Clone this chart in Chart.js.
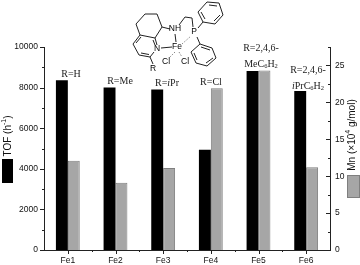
<!DOCTYPE html>
<html>
<head>
<meta charset="utf-8">
<script src="https://cdn.jsdelivr.net/npm/chart.js@4"></script>
<style>
  html, body { margin: 0; padding: 0; background: #fff; }
  canvas { display: block; filter: blur(0.35px); }
</style>
</head>
<body>
<canvas id="chartContainer" width="360" height="265"></canvas>
<script>
// values
var categories = ['Fe1', 'Fe2', 'Fe3', 'Fe4', 'Fe5', 'Fe6'];
var tofValues = [8360, 8010, 7910, 4940, 8820, 7830];
var mnValues = [12.1, 9.1, 11.1, 21.9, 24.3, 11.2];

var black = '#000';
var grey = '#a6a6a6';
var greyEdge = '#7f7f7f';
var axisColor = '#222';
var sans = '"Liberation Sans", Arial, sans-serif';
var serif = '"Liberation Serif", "Times New Roman", serif';

// R= captions above the bars
var captions = [
    { x: 71, y: 74, parts: [['R=H']] },
    { x: 120, y: 81, parts: [['R=Me']] },
    { x: 167, y: 83, parts: [['R='], ['i', 'i'], ['Pr']] },
    { x: 211, y: 82, parts: [['R=Cl']] },
    { x: 261, y: 48, parts: [['R=2,4,6-']] },
    { x: 261, y: 64, parts: [['MeC'], ['6', 's'], ['H'], ['2', 's']] },
    { x: 308, y: 70, parts: [['R=2,4,6-']] },
    { x: 308, y: 86, parts: [['i', 'i'], ['PrC'], ['6', 's'], ['H'], ['2', 's']] }
];

// catalyst structure sketch, page pixels
var bondPaths = [
    [[136, 24], [145, 14], [157, 14], [162, 27], [155, 38], [140, 35], [136, 24]],
    [[140, 35], [133, 44], [139, 55], [150, 57], [154, 52]],
    [[155, 38], [157, 45]],
    [[136, 43], [141, 37]],
    [[141, 53], [149, 54.5]],
    [[153, 40], [155, 45]],
    [[150, 57], [153, 64]],
    [[162, 27], [170, 29]],
    [[179, 25], [185, 17], [192, 18], [193, 27]],
    [[175, 34], [176, 42]],
    [[161, 48], [172, 47]],
    [[198, 28], [203, 22]],
    [[197, 37], [200, 44]],
    [[198, 12], [207, 2], [219, 3], [223, 15], [215, 24], [203, 22], [198, 12]],
    [[209, 5], [217, 6]],
    [[220, 15], [214, 21]],
    [[205, 19], [201, 12]],
    [[191, 52], [200, 44], [212, 48], [216, 58], [207, 66], [196, 63], [191, 52]],
    [[201, 47], [210, 50]],
    [[213, 58], [206, 63]],
    [[197, 60], [194, 53]]
];
var dashedPaths = [
    [[182, 44], [191, 36]],
    [[175, 52], [170, 57]],
    [[179, 52], [182, 57]]
];
var atoms = [
    ['N', 157, 49], ['NH', 175, 29], ['Fe', 177, 47], ['P', 194, 32],
    ['Cl', 166, 62], ['Cl', 185, 62], ['R', 153, 69]
];

function drawPieces(ctx, pieces, x, y, align) {
    // pieces: [text, style] where style is s (sub), u (super), i (italic)
    var total = 0;
    pieces.forEach(function (p) {
        ctx.font = ctx.baseFont(p[1]);
        total += ctx.measureText(p[0]).width;
    });
    var cx = align === 'center' ? x - total / 2 : x;
    pieces.forEach(function (p) {
        ctx.font = ctx.baseFont(p[1]);
        var dy = p[1] === 's' ? 2.5 : (p[1] === 'u' ? -3.5 : 0);
        ctx.fillText(p[0], cx, y + dy);
        cx += ctx.measureText(p[0]).width;
    });
}

function strokePath(ctx, pts) {
    ctx.beginPath();
    pts.forEach(function (p, i) {
        if (i === 0) ctx.moveTo(p[0], p[1]); else ctx.lineTo(p[0], p[1]);
    });
    ctx.stroke();
}

var extrasPlugin = {
    id: 'extras',
    afterDraw: function (chart) {
        var ctx = chart.ctx;
        var area = chart.chartArea;
        var yL = chart.scales.yTof, yR = chart.scales.yMn, xS = chart.scales.x;
        ctx.save();
        ctx.strokeStyle = axisColor;
        ctx.lineWidth = 1;

        // tick marks: left outward, right inward, x downward
        yL.ticks.forEach(function (t) {
            var py = Math.round(yL.getPixelForValue(t.value)) + 0.5;
            var len = t.value % 2000 === 0 ? 4 : 2;
            strokePath(ctx, [[area.left - len, py], [area.left, py]]);
        });
        yR.ticks.forEach(function (t) {
            var py = Math.round(yR.getPixelForValue(t.value)) + 0.5;
            var len = t.value % 5 === 0 ? 4 : 2;
            strokePath(ctx, [[area.right - len, py], [area.right, py]]);
        });
        var step = xS.getPixelForValue(1) - xS.getPixelForValue(0);
        categories.forEach(function (c, i) {
            var px = Math.round(xS.getPixelForValue(i)) + 0.5;
            strokePath(ctx, [[px, area.bottom], [px, area.bottom + 4]]);
            var mx = Math.round(xS.getPixelForValue(i) + step / 2) + 0.5;
            if (i < categories.length - 1) strokePath(ctx, [[mx, area.bottom], [mx, area.bottom + 2]]);
        });

        // legend swatches beside the axis titles
        ctx.fillStyle = black;
        ctx.fillRect(2, 159, 11, 24);
        ctx.fillStyle = grey;
        ctx.strokeStyle = greyEdge;
        ctx.fillRect(347.5, 175.5, 12, 22);
        ctx.strokeRect(347.5, 175.5, 12, 22);

        // rotated axis titles
        ctx.fillStyle = '#111';
        ctx.textBaseline = 'middle';
        ctx.baseFont = function (s) {
            return (s === 'u' ? '7px ' : '10px ') + sans;
        };
        ctx.save();
        ctx.translate(8, 136);
        ctx.rotate(-Math.PI / 2);
        drawPieces(ctx, [['TOF (h'], ['-1', 'u'], [')']], 0, 0, 'center');
        ctx.restore();
        ctx.save();
        ctx.translate(352, 135);
        ctx.rotate(-Math.PI / 2);
        drawPieces(ctx, [['Mn (\u00d710'], ['4', 'u'], [' g/mol)']], 0, 0, 'center');
        ctx.restore();

        // captions
        ctx.fillStyle = '#222';
        ctx.baseFont = function (s) {
            if (s === 's') return '6.5px ' + serif;
            if (s === 'i') return 'italic 10px ' + serif;
            return '10px ' + serif;
        };
        captions.forEach(function (c) {
            drawPieces(ctx, c.parts, c.x, c.y, 'center');
        });

        // structure
        ctx.strokeStyle = '#222';
        ctx.lineWidth = 1;
        bondPaths.forEach(function (p) { strokePath(ctx, p); });
        ctx.setLineDash([1.5, 1.5]);
        ctx.strokeStyle = '#888';
        dashedPaths.forEach(function (p) { strokePath(ctx, p); });
        ctx.setLineDash([]);
        ctx.fillStyle = '#000';
        ctx.font = '8.5px ' + sans;
        ctx.textAlign = 'center';
        atoms.forEach(function (a) { ctx.fillText(a[0], a[1], a[2]); });
        ctx.restore();
    }
};

var ctx = document.getElementById('chartContainer').getContext('2d');
var myChart = new Chart(ctx, {
    type: 'bar',
    data: {
        labels: categories,
        datasets: [{
            label: 'TOF',
            data: tofValues,
            yAxisID: 'yTof',
            backgroundColor: black,
            barPercentage: 1,
            categoryPercentage: 0.5
        }, {
            label: 'Mn',
            data: mnValues,
            yAxisID: 'yMn',
            backgroundColor: grey,
            borderColor: greyEdge,
            borderWidth: 1,
            barPercentage: 1,
            categoryPercentage: 0.5
        }]
    },
    options: {
        responsive: false,
        animation: false,
        layout: { padding: { top: 47 } },
        plugins: { legend: { display: false }, tooltip: { enabled: false } },
        scales: {
            x: {
                grid: { display: false, drawTicks: false },
                border: { display: true, color: axisColor },
                ticks: { color: '#111', font: { family: sans, size: 8.5 }, padding: 6, maxRotation: 0, minRotation: 0 },
                afterFit: function (s) { s.height = 15; }
            },
            yTof: {
                position: 'left',
                min: 0,
                max: 10000,
                grid: { display: false, drawTicks: false },
                border: { display: true, color: axisColor },
                ticks: {
                    stepSize: 1000,
                    autoSkip: false,
                    padding: 6,
                    color: '#111',
                    font: { family: sans, size: 8.5 },
                    callback: function (v) { return v % 2000 === 0 ? String(v) : ''; }
                },
                afterFit: function (s) { s.width = 44; }
            },
            yMn: {
                position: 'right',
                min: 0,
                max: 27.5,
                grid: { display: false, drawTicks: false },
                border: { display: true, color: axisColor },
                ticks: {
                    stepSize: 2.5,
                    autoSkip: false,
                    padding: 5,
                    maxRotation: 0,
                    minRotation: 0,
                    color: '#111',
                    font: { family: sans, size: 8.5 },
                    callback: function (v) { return v % 5 === 0 ? String(v) : ''; }
                },
                afterFit: function (s) { s.width = 30; }
            }
        }
    },
    plugins: [extrasPlugin]
});
</script>
</body>
</html>
